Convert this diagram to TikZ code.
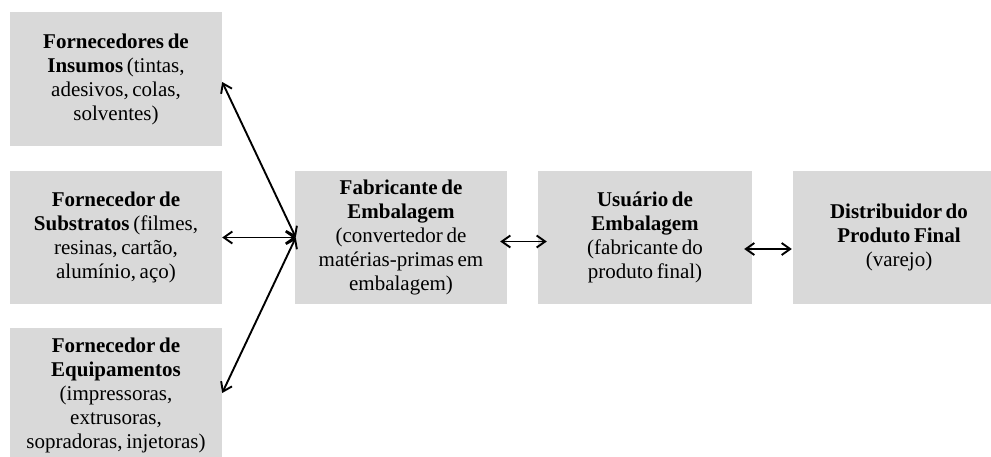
\documentclass[tikz,border=0pt]{standalone}
\usepackage{fontspec}
\setmainfont{Liberation Serif}[WordSpace={0.7}]
\usetikzlibrary{arrows.meta,calc}
\definecolor{boxgray}{RGB}{217,217,217}
\tikzset{
  actor/.style={fill=boxgray, draw=none, inner sep=0pt, align=center,
    minimum width=212pt, minimum height=134pt,
    font=\fontsize{21}{24}\selectfont},
  link/.style={line width=1.9pt, {Straight Barb[length=8.5pt,width=12pt]}-{Straight Barb[length=8.5pt,width=12pt]}}
}
\begin{document}
\begin{tikzpicture}[x=1pt,y=-1pt]
\useasboundingbox (0,0) rectangle (991,456);
\clip (0,0) rectangle (991,456);

% suppliers
\node[actor] (insumos) at (116,79)
  {\textbf{Fornecedores de}\\\textbf{Insumos} (tintas,\\adesivos, colas,\\solventes)};
\node[actor, minimum height=133pt] (substratos) at (116,237.5)
  {\textbf{Fornecedor de}\\\textbf{Substratos} (filmes,\\resinas, cartão,\\alumínio, aço)};
\node[actor] (equip) at (116,395)
  {\textbf{Fornecedor de}\\\textbf{Equipamentos}\\(impressoras,\\extrusoras,\\sopradoras, injetoras)};

% main chain
\node[actor, minimum height=133pt] (fabricante) at (401,237.5)
  {\textbf{Fabricante de}\\\textbf{Embalagem}\\(convertedor de\\matérias-primas em\\embalagem)};
\node[actor, minimum height=133pt, minimum width=214pt] (usuario) at (645,237.5)
  {\textbf{Usuário de}\\\textbf{Embalagem}\\(fabricante do\\produto final)};
\node[actor, minimum height=133pt] (distribuidor) at (899,237.5)
  {\textbf{Distribuidor do}\\\textbf{Produto Final}\\(varejo)};

% relations
\coordinate (hub) at ($(fabricante.west)+(1,0)$);
\draw[link] ($(insumos.east)+(0,3)$) -- (hub);
\draw[link] (substratos.east) -- (hub);
\draw[link] ($(equip.east)+(0,-2)$) -- (hub);
\draw[link] ($(fabricante.east)+(-7,4)$) -- ($(usuario.west)+(9,4)$);
\draw[link] ($(usuario.east)+(-8,11.5)$) -- ($(distribuidor.west)+(-1,11.5)$);
\end{tikzpicture}
\end{document}
